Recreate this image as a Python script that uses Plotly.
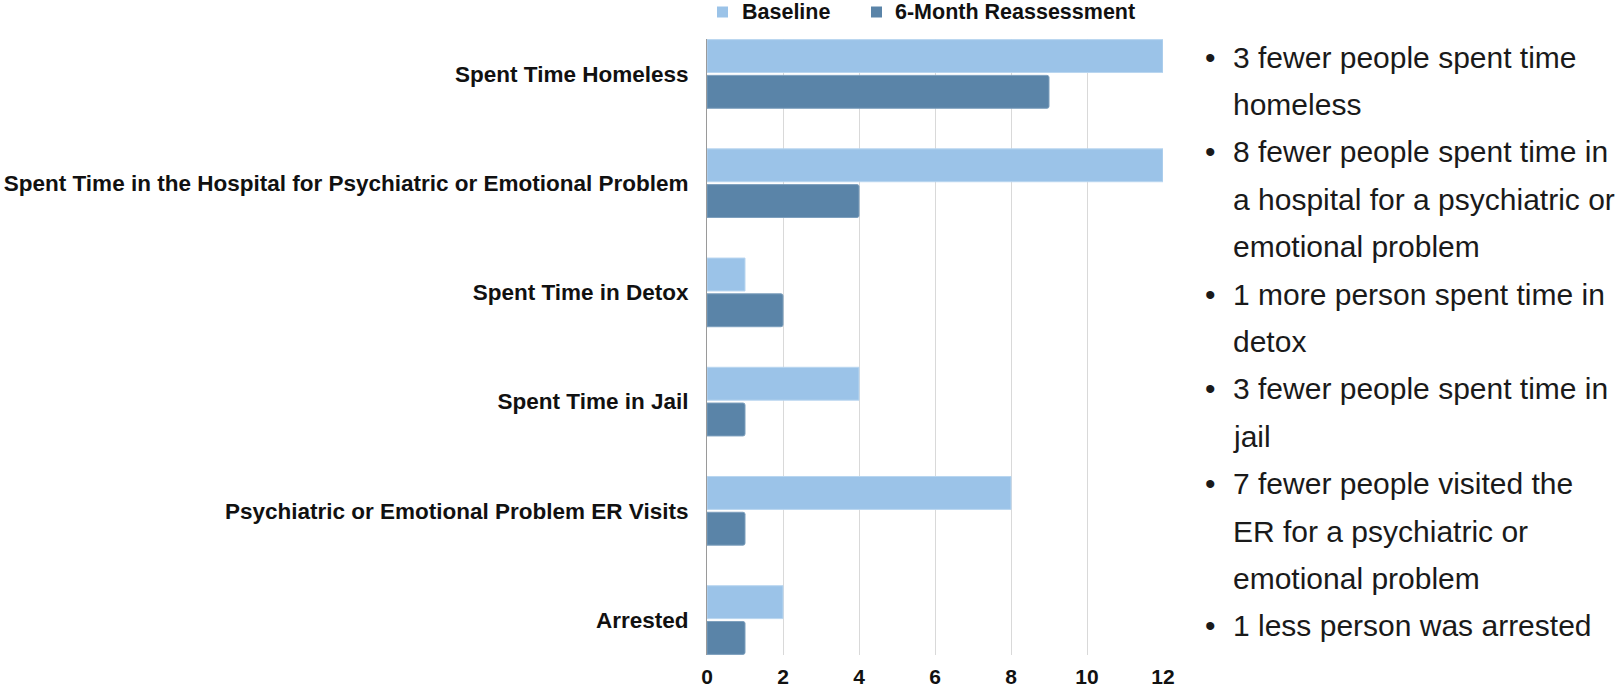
import plotly.graph_objects as go

# Outcome categories (top to bottom) and counts at each assessment
categories = [
    "Spent Time Homeless",
    "Spent Time in the Hospital for Psychiatric or Emotional Problem",
    "Spent Time in Detox",
    "Spent Time in Jail",
    "Psychiatric or Emotional Problem ER Visits",
    "Arrested",
]
baseline = [12, 12, 1, 4, 8, 2]
reassessment = [9, 4, 2, 1, 1, 1]
series_names = ["Baseline", "6-Month Reassessment"]
x_ticks = [0, 2, 4, 6, 8, 10, 12]

# Summary notes shown to the right of the chart (one entry per bullet, pre-wrapped)
notes = [
    ["3 fewer people spent time", "homeless"],
    ["8 fewer people spent time in", "a hospital for a psychiatric or", "emotional problem"],
    ["1 more person spent time in", "detox"],
    ["3 fewer people spent time in", "jail"],
    ["7 fewer people visited the", "ER for a psychiatric or", "emotional problem"],
    ["1 less person was arrested"],
]

W, H = 1624, 688
L, R, T, B = 707, 1163, 39, 655
FONT = "Liberation Sans, Arial, sans-serif"
LIGHT = "#9bc3e8"
DARK = "#5a84a8"
colors = [LIGHT, DARK]

fig = go.Figure()
fig.add_trace(go.Bar(
    y=categories, x=baseline, name=series_names[0], orientation="h",
    marker=dict(color=LIGHT, line=dict(color="#b9d6f0", width=1)),
    showlegend=False,
))
fig.add_trace(go.Bar(
    y=categories, x=reassessment, name=series_names[1], orientation="h",
    marker=dict(color=DARK, line=dict(color="#7d9fbd", width=1), cornerradius=2),
    showlegend=False,
))


def px_x(x):
    return (x - L) / (R - L)


def px_y(y):
    return (B - y) / (B - T)


annotations = []
shapes = []

# Legend drawn as key squares plus bold labels above the plot
legend_square_x = [717, 871]
legend_text_x = [740, 893]
legend_y = 12
for name, col, sx, tx in zip(series_names, colors, legend_square_x, legend_text_x):
    shapes.append(dict(
        type="rect", xref="paper", yref="paper",
        x0=px_x(sx), x1=px_x(sx + 11), y0=px_y(legend_y - 5.5), y1=px_y(legend_y + 5.5),
        fillcolor=col, line=dict(width=0),
    ))
    annotations.append(dict(
        x=px_x(tx), y=px_y(legend_y), xref="paper", yref="paper", text=f"<b>{name}</b>",
        showarrow=False, xanchor="left", yanchor="middle",
        font=dict(family=FONT, size=21.5, color="#111111"),
    ))

# Bulleted notes, one annotation per wrapped line
line0, step = 57, 47.4
row = 0
for note in notes:
    for j, text in enumerate(note):
        y = px_y(line0 + row * step)
        if j == 0:
            annotations.append(dict(
                x=px_x(1210), y=y, xref="paper", yref="paper", text="•",
                showarrow=False, xanchor="center", yanchor="middle",
                font=dict(family=FONT, size=30, color="#1a1a1a"),
            ))
        annotations.append(dict(
            x=px_x(1231), y=y, xref="paper", yref="paper", text=text,
            showarrow=False, xanchor="left", yanchor="middle",
            font=dict(family=FONT, size=30, color="#1a1a1a"),
        ))
        row += 1

fig.update_layout(
    width=W, height=H,
    margin=dict(l=L, r=W - R, t=T, b=H - B, pad=0, autoexpand=False),
    paper_bgcolor="white", plot_bgcolor="white",
    barmode="group", bargap=0.345, bargroupgap=0.08,
    font=dict(family=FONT, color="#000000"),
    showlegend=False,
    xaxis=dict(
        range=[0, 12], tickvals=x_ticks, showgrid=True, gridcolor="#d9d9d9", gridwidth=1,
        zeroline=False, showline=False, ticks="", ticklabelstandoff=7,
        tickfont=dict(family=FONT, size=21, color="#111111", weight="bold"),
        fixedrange=True, automargin=False,
    ),
    yaxis=dict(
        type="category", categoryorder="array", categoryarray=categories,
        range=[5.32, -0.32], showline=True, linecolor="#9a9a9a", linewidth=1,
        ticks="", ticklabelstandoff=13, showgrid=False, automargin=False,
        tickfont=dict(family=FONT, size=22.5, color="#111111", weight="bold"),
    ),
    annotations=annotations,
    shapes=shapes,
)

fig.write_html("out.html")
